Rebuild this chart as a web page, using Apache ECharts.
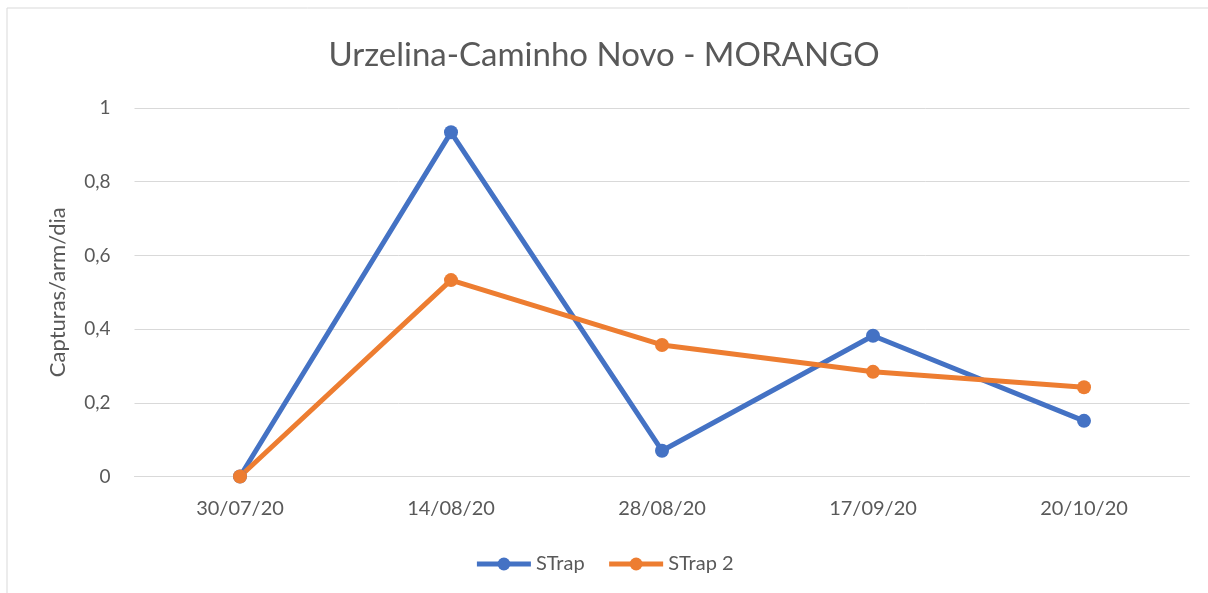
<!DOCTYPE html>
<html><head><meta charset="utf-8">
<script src="https://cdn.jsdelivr.net/npm/echarts@6/dist/echarts.min.js"></script>
<style>html,body{margin:0;padding:0;background:#fff}#c{width:1208px;height:593px}</style>
</head><body><div id="c"></div>
<script>
const categories = ['30/07/20','14/08/20','28/08/20','17/09/20','20/10/20'];
const strap = [0, 0.934, 0.070, 0.382, 0.151];
const strap2 = [0, 0.533, 0.357, 0.284, 0.242];
const yTicks = [0, 0.2, 0.4, 0.6, 0.8, 1];

const font = 'Lato, "Open Sans", sans-serif';
const chart = echarts.init(document.getElementById('c'));
chart.setOption({
  animation: false,
  backgroundColor: '#fff',
  textStyle: {fontFamily: font},
  graphic: [{type:'rect', shape:{x:7, y:8, width:1220, height:620}, style:{fill:'none', stroke:'#d9d9d9', lineWidth:1}, silent:true}],
  title: {text: 'Urzelina-Caminho Novo - MORANGO', left: 'center', top: 34,
    textStyle: {fontFamily: font, fontSize: 33, fontWeight: 'normal', color: '#595959'}},
  legend: {bottom: 14, left: 'center', itemWidth: 54, itemHeight: 16, itemGap: 22,
    lineStyle: {width: 5},
    textStyle: {fontFamily: font, fontSize: 20, color: '#595959'},
    data: ['STrap','STrap 2']},
  grid: {left: 134.5, right: 18.5, top: 108, bottom: 116.5},
  xAxis: {type: 'category', data: categories, boundaryGap: true,
    axisLine: {show: true, lineStyle: {color: '#d9d9d9', width: 1}},
    axisTick: {show: false},
    axisLabel: {fontFamily: font, fontSize: 20, color: '#595959', margin: 22}},
  yAxis: {type: 'value', min: 0, max: 1, interval: 0.2,
    name: 'Capturas/arm/dia', nameLocation: 'middle', nameGap: 66, nameRotate: 90,
    nameTextStyle: {fontFamily: font, fontSize: 22, color: '#595959'},
    axisLine: {show: false}, axisTick: {show: false},
    splitLine: {lineStyle: {color: '#d9d9d9', width: 1}},
    axisLabel: {fontFamily: font, fontSize: 19, color: '#595959', margin: 24,
      formatter: v => { const t = yTicks.find(x => Math.abs(x - v) < 1e-9); return String(t === undefined ? v : t).replace('.', ','); }}},
  series: [
    {name: 'STrap', type: 'line', data: strap, symbol: 'circle', symbolSize: 14,
      lineStyle: {width: 5, color: '#4472c4'}, itemStyle: {color: '#4472c4'}},
    {name: 'STrap 2', type: 'line', data: strap2, symbol: 'circle', symbolSize: 14,
      lineStyle: {width: 5, color: '#ed7d31'}, itemStyle: {color: '#ed7d31'}}
  ]
});
</script></body></html>
